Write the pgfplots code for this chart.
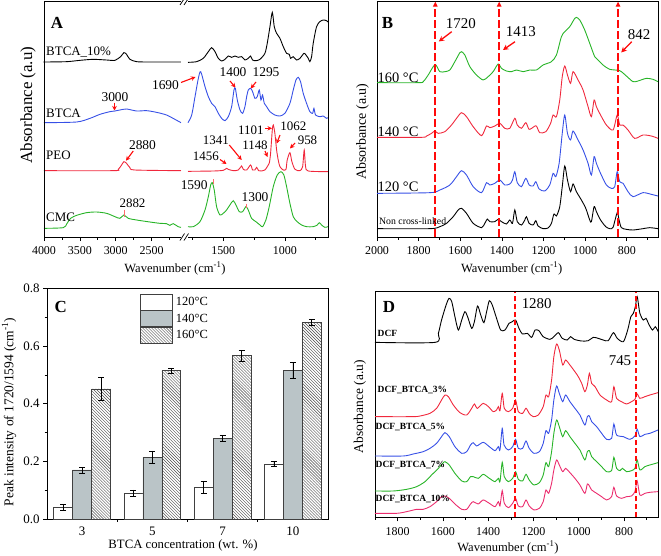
\documentclass[border=0pt]{standalone}
\usepackage{pgfplots}
\pgfplotsset{compat=1.18}
\usepackage{fontspec}
\setmainfont{Liberation Serif}
\usetikzlibrary{patterns,arrows.meta}

\definecolor{cblue}{RGB}{55,80,230}
\definecolor{cred}{RGB}{240,40,60}
\definecolor{cgreen}{RGB}{40,180,40}
\definecolor{cpink}{RGB}{235,45,110}
\definecolor{cgray}{RGB}{186,196,199}
\definecolor{dred}{RGB}{255,10,10}

\newcommand{\fs}[1]{\fontsize{#1}{#1}\selectfont}

\tikzset{dline/.style={dred, line width=2bp, dash pattern=on 8bp off 3bp}}

\pgfplotsset{
  spec/.style={
    scale only axis, axis line style={draw=none},
    ytick=\empty, xtick pos=left, tick align=outside,
    major tick length=4bp, minor tick length=2.5bp,
    tick style={black, line width=0.6bp},
    ticklabel style={font=\fs{12}},
    xticklabel style={yshift=-2.5bp},
    /pgf/number format/assume math mode=true,
    /pgf/number format/1000 sep={},
    scaled ticks=false, x dir=reverse, ymin=0, clip=false,
  },
  sp/.style={no marks, smooth, tension=0.45, line width=0.9bp, draw=#1},
}

\begin{document}
\begin{tikzpicture}
\path[use as bounding box] (0,0) rectangle (661bp,-556bp);

% ---------------- Panel A, left segment ----------------
\begin{axis}[spec, at={(44bp,-237bp)}, anchor=south west, width=137bp, height=236bp,
  xmin=2090, xmax=4000, ymax=708,
  xtick={2500,3000,3500,4000}, minor xtick={2250,2750,3250,3750}]
\addplot[sp=black] coordinates {(4000,525)(3986,525)(3684,526)(3499,530)(3313,533)(3127,531)(3011,530)(2932,541)(2886,553)(2849,548)(2802,533)(2709,526)(2524,525)(2090,525)};
\addplot[sp=cblue] coordinates {(4000,343)(3545,345)(3359,356)(3220,368)(3081,376)(3011,378)(2942,381)(2849,384)(2709,378)(2570,379)(2431,374)(2292,366)(2175,353)(2090,343)};
\addplot[sp=cred] coordinates {(4000,199)(3034,199)(2965,203)(2918,216)(2886,226)(2849,221)(2802,208)(2733,201)(2090,199)};
\addplot[sp=cgreen] coordinates {(4000,26)(3731,28)(3684,39)(3629,56)(3545,65)(3406,73)(3267,75)(3127,71)(3011,61)(2942,56)(2886,66)(2825,56)(2709,51)(2524,45)(2384,41)(2292,40)(2245,35)(2199,40)(2129,31)(2090,29)};
\end{axis}

% ---------------- Panel A, right segment ----------------
\begin{axis}[spec, at={(188bp,-237bp)}, anchor=south west, width=140bp, height=236bp,
  xmin=650, xmax=1786, ymax=708,
  xtick={1000,1500}, minor xtick={750,1250,1750}]
\addplot[sp=black] coordinates {(1786,524)(1716,526)(1662,536)(1621,556)(1594,568)(1567,556)(1540,536)(1513,528)(1486,533)(1459,543)(1432,539)(1405,543)(1378,539)(1351,541)(1324,531)(1297,536)(1278,543)(1262,531)(1235,529)(1202,533)(1162,551)(1143,581)(1121,631)(1102,674)(1086,631)(1067,611)(1040,596)(1013,571)(986,551)(964,548)(954,536)(932,541)(905,531)(878,536)(845,551)(829,546)(810,536)(797,526)(783,541)(770,581)(743,631)(716,646)(689,651)(662,649)(650,645)};
\addplot[sp=cblue] coordinates {(1786,343)(1756,366)(1729,421)(1702,476)(1683,496)(1648,451)(1621,421)(1594,401)(1567,391)(1540,371)(1513,356)(1486,349)(1459,361)(1432,391)(1413,441)(1402,446)(1386,411)(1364,381)(1343,371)(1324,391)(1310,421)(1297,441)(1278,446)(1262,436)(1243,416)(1224,421)(1208,441)(1194,411)(1181,426)(1167,401)(1148,391)(1121,376)(1081,366)(1040,363)(1000,371)(959,401)(932,441)(910,471)(891,479)(873,466)(851,431)(824,401)(797,376)(775,371)(764,386)(751,366)(716,361)(689,363)(662,356)(650,358)};
\addplot[sp=cred] coordinates {(1786,197)(1581,198)(1500,200)(1473,206)(1459,203)(1419,199)(1378,201)(1351,213)(1337,203)(1310,201)(1278,216)(1262,201)(1243,201)(1229,209)(1213,199)(1189,198)(1162,201)(1143,211)(1127,221)(1116,251)(1102,321)(1094,336)(1081,311)(1067,261)(1054,231)(1040,211)(1013,201)(991,203)(981,231)(959,253)(943,226)(918,203)(878,199)(856,211)(843,261)(832,211)(810,198)(662,196)(650,196)};
\addplot[sp=cgreen] coordinates {(1786,31)(1743,31)(1689,46)(1648,81)(1621,121)(1602,156)(1589,163)(1573,141)(1554,91)(1527,66)(1500,71)(1473,81)(1446,96)(1419,109)(1397,96)(1370,76)(1343,76)(1316,91)(1297,81)(1270,56)(1235,46)(1202,36)(1181,31)(1154,51)(1127,91)(1094,151)(1062,186)(1032,196)(1008,186)(986,151)(959,101)(932,61)(900,46)(864,36)(824,31)(770,31)(737,36)(721,43)(702,36)(675,29)(650,31)};
\end{axis}

% ---------------- Panel B ----------------
\begin{axis}[spec, at={(377bp,-237bp)}, anchor=south west, width=281bp, height=236bp,
  axis line style={draw=black, line width=0.8bp},
  xmin=650, xmax=2000, ymax=708,
  xtick={800,1000,...,2000}, minor xtick={700,900,...,1900}]
\addplot[sp=black] coordinates {(2000,25)(1746,25)(1698,31)(1666,41)(1634,61)(1610,81)(1594,86)(1570,71)(1538,41)(1498,28)(1482,41)(1470,54)(1458,46)(1434,46)(1418,53)(1402,46)(1378,39)(1362,51)(1349,41)(1338,81)(1326,46)(1306,36)(1290,51)(1282,61)(1269,41)(1250,36)(1237,49)(1226,33)(1202,25)(1178,27)(1162,41)(1150,69)(1138,63)(1122,91)(1110,151)(1098,213)(1085,171)(1070,136)(1058,159)(1042,136)(1018,111)(997,86)(978,51)(970,46)(957,91)(946,76)(926,51)(901,31)(882,25)(866,29)(846,73)(837,51)(826,28)(802,23)(770,21)(722,25)(690,28)(650,25)};
\addplot[sp=cblue] coordinates {(2000,131)(1746,133)(1698,141)(1650,156)(1618,181)(1594,199)(1570,186)(1538,151)(1498,133)(1474,163)(1458,156)(1434,161)(1410,171)(1386,156)(1362,159)(1349,171)(1338,196)(1326,163)(1306,151)(1285,176)(1269,156)(1250,153)(1237,166)(1221,144)(1194,138)(1170,156)(1154,191)(1141,181)(1125,221)(1110,311)(1098,366)(1085,311)(1070,291)(1058,318)(1034,291)(1010,261)(986,221)(970,186)(957,241)(946,221)(926,191)(898,156)(874,146)(858,151)(846,196)(834,166)(818,161)(794,136)(770,121)(722,133)(682,128)(650,123)};
\addplot[sp=cred] coordinates {(2000,299)(1786,299)(1762,303)(1738,311)(1722,318)(1706,311)(1674,316)(1642,336)(1618,356)(1594,373)(1570,361)(1538,331)(1498,304)(1474,333)(1458,328)(1434,333)(1410,341)(1386,326)(1362,326)(1338,356)(1326,336)(1306,326)(1285,343)(1269,323)(1246,331)(1234,333)(1218,313)(1189,316)(1166,341)(1154,366)(1138,361)(1122,411)(1110,481)(1098,513)(1085,486)(1070,461)(1058,496)(1034,471)(1010,441)(986,391)(970,361)(957,411)(946,391)(926,366)(898,336)(866,321)(846,366)(834,336)(818,336)(794,321)(762,296)(722,306)(682,303)(650,296)};
\addplot[sp=cgreen] coordinates {(2000,463)(1802,463)(1778,466)(1754,486)(1730,511)(1717,516)(1698,496)(1674,496)(1650,501)(1626,526)(1602,553)(1594,556)(1578,546)(1554,511)(1522,486)(1490,471)(1466,481)(1442,496)(1418,519)(1402,506)(1378,498)(1354,496)(1330,501)(1298,496)(1266,501)(1234,501)(1202,516)(1162,526)(1138,546)(1114,601)(1098,616)(1074,631)(1050,656)(1042,659)(1026,651)(1002,621)(978,581)(954,541)(938,531)(914,516)(882,503)(834,499)(802,483)(770,466)(746,468)(706,476)(674,473)(650,466)};
\draw[dline, -{Triangle[length=5bp,width=4.5bp]}] (axis cs:1720,0) -- (axis cs:1720,706);
\draw[dline, -{Triangle[length=5bp,width=4.5bp]}] (axis cs:1413,0) -- (axis cs:1413,706);
\draw[dline, -{Triangle[length=5bp,width=4.5bp]}] (axis cs:842,0) -- (axis cs:842,706);
\end{axis}

% ---------------- Panel C ----------------
\begin{axis}[at={(47bp,-519bp)}, anchor=south west, scale only axis,
  width=281bp, height=230.7bp, ybar,
  xmin=-0.5, xmax=3.5, ymin=0, ymax=0.8,
  xtick={0,1,2,3}, xticklabels={3,5,7,10}, minor xtick={0.5,1.5,2.5},
  ytick={0,0.2,0.4,0.6,0.8}, minor ytick={0.1,0.3,0.5,0.7},
  xtick pos=left, ytick pos=left, tick align=outside,
  major tick length=4bp, minor tick length=2.5bp,
  tick style={black, line width=0.6bp},
  major x tick style={draw=none},
  ticklabel style={font=\fs{13}},
  yticklabel style={/pgf/number format/.cd, fixed, fixed zerofill, precision=1},
  /pgf/number format/assume math mode=true,
  axis line style={line width=0.8bp},
  bar width=0.27,
  legend image code/.code={\draw[#1] (0bp,-8bp) rectangle (32bp,8bp);},
  legend style={draw=none, fill=none, at={(0.331,0.978)}, anchor=north west,
    inner sep=0pt, row sep=0pt, column sep=2bp, font=\fs{12.5},
    nodes={inner sep=1bp}},
  legend cell align=left,
  error bars/y dir=both, error bars/y explicit,
  error bars/error bar style={black, line width=0.7bp},
  error bars/error mark options={rotate=90, mark size=3bp, black, line width=0.7bp},
]
\addplot[bar shift=-0.27, fill=white, draw=black!75, line width=0.7bp]
  coordinates {(0,0.040) +- (0,0.010) (1,0.089) +- (0,0.012) (2,0.109) +- (0,0.020) (3,0.191) +- (0,0.009)};
\addplot[bar shift=0, fill=cgray, draw=black!75, line width=0.7bp]
  coordinates {(0,0.170) +- (0,0.010) (1,0.214) +- (0,0.022) (2,0.279) +- (0,0.011) (3,0.516) +- (0,0.028)};
\addplot[bar shift=0.27, pattern=north west lines, pattern color=black!70, draw=black!75, line width=0.7bp]
  coordinates {(0,0.451) +- (0,0.040) (1,0.514) +- (0,0.010) (2,0.566) +- (0,0.020) (3,0.682) +- (0,0.010)};
\legend{120°C,140°C,160°C}
\end{axis}

% ---------------- Panel D ----------------
\begin{axis}[spec, at={(375bp,-517.3bp)}, anchor=south west, width=283bp, height=225.6bp,
  axis line style={draw=black, line width=0.8bp},
  xmin=650, xmax=1900, ymax=677,
  xtick={800,1000,...,1800}, minor xtick={700,900,...,1900}]
\addplot[sp=black] coordinates {(1900,525)(1635,525)(1620,552)(1606,592)(1586,637)(1573,657)(1561,647)(1547,602)(1532,562)(1517,592)(1503,617)(1491,602)(1473,567)(1461,587)(1447,634)(1433,607)(1419,584)(1407,617)(1395,650)(1382,637)(1363,597)(1345,562)(1326,562)(1308,582)(1294,587)(1279,592)(1264,567)(1249,550)(1227,552)(1208,540)(1193,562)(1176,560)(1157,542)(1127,534)(1110,542)(1090,554)(1073,537)(1051,532)(1036,542)(1020,534)(987,529)(958,530)(936,540)(914,537)(892,532)(870,530)(847,554)(830,537)(803,527)(784,562)(770,602)(759,612)(750,632)(742,662)(730,612)(715,592)(703,597)(689,577)(674,562)(662,572)(649,557)};
\addplot[sp=cred] coordinates {(1900,302)(1735,302)(1701,304)(1657,312)(1628,327)(1606,352)(1591,367)(1576,362)(1554,337)(1525,314)(1495,307)(1473,327)(1461,340)(1448,327)(1422,342)(1399,332)(1378,317)(1363,322)(1355,332)(1348,320)(1338,372)(1329,327)(1311,317)(1292,327)(1279,352)(1267,317)(1248,312)(1233,327)(1219,312)(1201,302)(1179,307)(1157,332)(1145,367)(1133,362)(1120,412)(1110,482)(1098,520)(1086,502)(1071,457)(1058,472)(1039,457)(1017,437)(1002,422)(987,402)(973,377)(962,397)(953,432)(943,402)(928,392)(906,367)(877,352)(855,347)(845,392)(833,357)(811,347)(789,340)(767,347)(752,354)(742,370)(730,357)(708,362)(686,367)(650,374)};
\addplot[sp=cblue] coordinates {(1900,184)(1775,184)(1731,190)(1687,197)(1657,207)(1628,222)(1606,242)(1591,254)(1572,242)(1547,212)(1517,192)(1495,197)(1478,217)(1466,224)(1451,214)(1422,225)(1395,212)(1370,200)(1355,212)(1348,202)(1338,267)(1330,217)(1311,202)(1292,212)(1279,234)(1267,207)(1248,207)(1233,229)(1219,207)(1198,192)(1174,197)(1157,222)(1145,260)(1133,252)(1120,292)(1110,352)(1098,394)(1086,372)(1071,347)(1058,367)(1039,347)(1017,327)(995,307)(973,277)(962,302)(953,304)(943,287)(921,272)(899,252)(877,234)(855,237)(845,280)(833,247)(803,242)(774,234)(752,244)(742,264)(730,242)(708,249)(686,252)(650,262)};
\addplot[sp=cgreen] coordinates {(1900,79)(1819,79)(1760,84)(1716,92)(1679,107)(1650,127)(1620,147)(1601,162)(1591,167)(1572,157)(1547,132)(1517,109)(1495,107)(1478,122)(1466,122)(1444,117)(1422,129)(1395,117)(1370,107)(1355,117)(1348,107)(1338,165)(1329,122)(1311,107)(1292,117)(1279,137)(1267,114)(1248,109)(1233,129)(1219,112)(1198,97)(1174,104)(1157,127)(1145,164)(1133,152)(1120,197)(1110,252)(1098,292)(1086,272)(1071,242)(1058,260)(1039,242)(1017,222)(995,202)(973,172)(962,197)(953,200)(943,182)(921,167)(899,152)(877,137)(855,140)(845,180)(833,147)(818,140)(807,147)(789,137)(767,140)(752,147)(742,172)(730,142)(708,152)(686,157)(650,164)};
\addplot[sp=cpink] coordinates {(1900,12)(1804,12)(1760,17)(1716,24)(1687,24)(1657,32)(1628,47)(1606,62)(1591,64)(1572,57)(1547,40)(1517,24)(1495,24)(1478,40)(1466,47)(1444,40)(1422,52)(1395,42)(1370,32)(1355,47)(1348,34)(1338,80)(1329,42)(1311,29)(1292,42)(1279,57)(1267,34)(1248,32)(1233,52)(1219,34)(1198,22)(1174,27)(1157,47)(1145,82)(1133,72)(1120,102)(1110,142)(1098,172)(1086,157)(1071,137)(1058,147)(1039,134)(1017,117)(995,97)(973,72)(962,100)(953,94)(943,82)(921,72)(899,62)(877,52)(855,62)(845,90)(833,64)(811,57)(789,62)(767,64)(752,77)(742,109)(730,67)(708,72)(686,75)(650,77)};
\draw[dred, line width=2bp, dash pattern=on 5bp off 3bp] (axis cs:1280,0) -- (axis cs:1280,677);
\draw[dred, line width=2bp, dash pattern=on 5bp off 3bp] (axis cs:745,0) -- (axis cs:745,677);
\end{axis}

% ---------------- annotations (pixel coordinates) ----------------
\begin{scope}[x=1bp, y=-1bp]
% frame of panel A
\draw[line width=0.8bp] (181,1) -- (44,1) -- (44,237) -- (181,237);
\draw[line width=0.8bp] (188,1) -- (328,1) -- (328,237) -- (188,237);
\draw[line width=0.7bp] (180,240.5) -- (184.5,233.5) (184,240.5) -- (188.5,233.5);
\draw[line width=0.7bp] (180,5) -- (184,-1) (184,5) -- (188,-1);
% panel A texts
\node[font=\fs{17}\bfseries] at (57,23) {A};
\node[font=\fs{13}, anchor=west, inner sep=0] at (46,52) {BTCA\_10\%};
\node[font=\fs{13}, anchor=west, inner sep=0] at (46,113) {BTCA};
\node[font=\fs{13}, anchor=west, inner sep=0] at (46,155) {PEO};
\node[font=\fs{13}, anchor=west, inner sep=0] at (46,217) {CMC};
\node[font=\fs{13.5}] at (115,96.7) {3000};
\node[font=\fs{13.5}] at (165.5,85) {1690};
\node[font=\fs{13.5}] at (233,72) {1400};
\node[font=\fs{13.5}] at (266,72) {1295};
\node[font=\fs{13.5}] at (142.5,145) {2880};
\node[font=\fs{13}] at (132.5,203.3) {2882};
\node[font=\fs{13}] at (205.8,156.7) {1456};
\node[font=\fs{13}] at (215.8,140) {1341};
\node[font=\fs{13}] at (255,145) {1148};
\node[font=\fs{13}] at (250.8,130) {1101};
\node[font=\fs{13}] at (293.3,126.7) {1062};
\node[font=\fs{13}] at (307.5,140) {958};
\node[font=\fs{13.5}] at (194.2,185) {1590};
\node[font=\fs{13.5}] at (255,196.7) {1300};
\begin{scope}[dred, line width=1.1bp, -{Stealth[length=4.5bp,width=4.5bp]}]
\draw (114.5,102.5) -- (114.5,110.5);
\draw (181,82.5) -- (195.5,77);
\draw (230,81) -- (235.5,87.5);
\draw (256,82) -- (250.7,88.5);
\draw (133.3,151) -- (126,160.7);
\draw (220,159.5) -- (226.5,164);
\draw (229.3,145) -- (241.7,160);
\draw (265,151) -- (267.5,157);
\draw (265,128.3) -- (272,128.3);
\draw (280,135) -- (276.7,143.5);
\draw (295,143) -- (290,148.5);
\end{scope}
\draw[dred!60, line width=0.8bp] (124,209.5) -- (124,216.5);
\draw[dred!60, line width=0.8bp] (213.3,179) -- (213.3,184);
\draw[dred!60, line width=0.8bp] (246,203.5) -- (246,207.5);
% axis labels A
\node[font=\fs{17}, rotate=90] at (28,105) {Absorbance (a.u)};
\node[font=\fs{12.6}] at (175,268.5) {Wavenumber (cm\textsuperscript{-1})};
% panel B texts
\node[font=\fs{17}\bfseries] at (387.5,22.5) {B};
\node[font=\fs{15}] at (460.8,23.3) {1720};
\node[font=\fs{15}] at (520.8,31.7) {1413};
\node[font=\fs{15}] at (639.2,34.2) {842};
\begin{scope}[dred, line width=1.3bp, -{Stealth[length=5.5bp,width=5.5bp]}]
\draw (451.7,31.7) -- (438.8,41.5);
\draw (515,41.7) -- (503,50);
\draw (631.7,41.7) -- (621.2,52.5);
\end{scope}
\node[font=\fs{14.5}, anchor=west, inner sep=0] at (377.5,77.5) {160 °C};
\node[font=\fs{14.5}, anchor=west, inner sep=0] at (377.5,131.7) {140 °C};
\node[font=\fs{14.5}, anchor=west, inner sep=0] at (377.5,186.7) {120 °C};
\node[font=\fs{9.8}, anchor=west, inner sep=0] at (379,220.8) {Non cross-linked};
\node[font=\fs{14}, rotate=90] at (362.5,131.7) {Absorbance (a.u)};
\node[font=\fs{12.6}] at (511.7,268.5) {Wavenumber (cm\textsuperscript{-1})};
% panel C texts
\node[font=\fs{17}\bfseries] at (60.8,306.7) {C};
\node[font=\fs{13.5}, rotate=90] at (9,412) {Peak intensity of 1720/1594 (cm\textsuperscript{-1})};
\node[font=\fs{12.8}] at (183,545) {BTCA concentration (wt. \%)};
% panel D texts
\node[font=\fs{17}\bfseries] at (389,306.7) {D};
\node[font=\fs{15}] at (536.7,303.3) {1280};
\node[font=\fs{15}] at (620,360.8) {745};
\node[font=\fs{9.5}\bfseries, anchor=west, inner sep=0] at (377.5,333.3) {DCF};
\node[font=\fs{9.5}\bfseries, anchor=west, inner sep=0] at (377.5,389.7) {DCF\_BTCA\_3\%};
\node[font=\fs{9.5}\bfseries, anchor=west, inner sep=0] at (375.5,426.7) {DCF\_BTCA\_5\%};
\node[font=\fs{9.5}\bfseries, anchor=west, inner sep=0] at (375.5,465) {DCF\_BTCA\_7\%};
\node[font=\fs{9.5}\bfseries, anchor=west, inner sep=0] at (375.5,499.3) {DCF\_BTCA\_10\%};
\node[font=\fs{13.5}, rotate=90] at (360,406.7) {Absorbance (a.u)};
\node[font=\fs{12.6}] at (508,547.5) {Wavenumber (cm\textsuperscript{-1})};
\end{scope}
\end{tikzpicture}
\end{document}
